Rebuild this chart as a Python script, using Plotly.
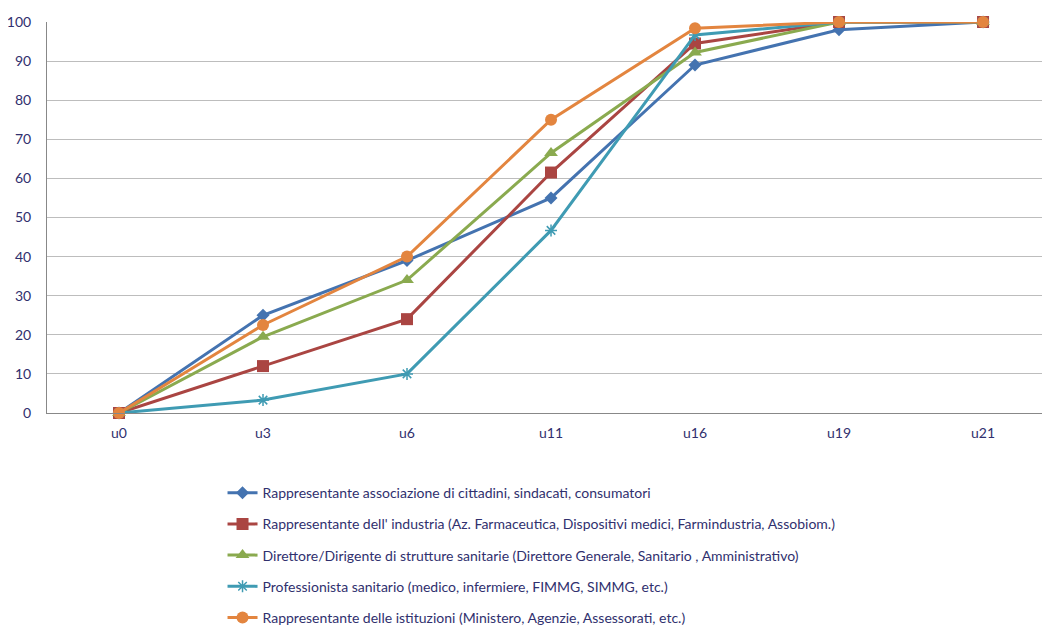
import plotly.graph_objects as go

categories = ["u0", "u3", "u6", "u11", "u16", "u19", "u21"]

names = [
    "Rappresentante associazione di cittadini, sindacati, consumatori",
    "Rappresentante dell' industria (Az. Farmaceutica, Dispositivi medici, Farmindustria, Assobiom.)",
    "Direttore/Dirigente di strutture sanitarie (Direttore Generale, Sanitario , Amministrativo)",
    "Professionista sanitario (medico, infermiere, FIMMG, SIMMG, etc.)",
    "Rappresentante delle istituzioni (Ministero, Agenzie, Assessorati, etc.)",
]

cittadini = [0, 25, 39, 55, 89, 98, 100]
industria = [0, 12, 24, 61.5, 94.5, 100, 100]
direttore = [0, 19.5, 34, 66.5, 92.2, 100, 100]
professionista = [0, 3.3, 10, 46.7, 96.7, 100, 100]
istituzioni = [0, 22.5, 40, 75, 98.4, 100, 100]

series = [cittadini, industria, direttore, professionista, istituzioni]
colors = ["#4473B0", "#AA4542", "#8AAA4F", "#3F9BB3", "#E3853F"]
symbols = ["diamond", "square", "triangle-up", "asterisk-open", "circle"]
sizes = [10, 12, 12, 10, 12]

fig = go.Figure()
for i, (nm, vals) in enumerate(zip(names, series)):
    marker = dict(symbol=symbols[i], size=sizes[i], color=colors[i])
    if symbols[i] == "asterisk-open":
        marker["line"] = dict(color=colors[i], width=1.5)
    fig.add_trace(go.Scatter(
        x=categories, y=vals, name=nm, mode="lines+markers",
        line=dict(color=colors[i], width=3),
        marker=marker, cliponaxis=False, legendgroup=f"g{i}",
    ))

text_color = "#30306E"
# page body has an 8px default margin, so figure is sized/offset to compensate
fig.update_layout(
    width=1042, height=617,
    margin=dict(l=39, r=0, t=14, b=212, autoexpand=False),
    paper_bgcolor="white", plot_bgcolor="white",
    font=dict(family="Lato, 'Open Sans', sans-serif", size=14, color=text_color),
    showlegend=True,
    legend=dict(
        x=0.175, y=-0.164, xanchor="left", yanchor="top",
        orientation="v", tracegroupgap=10, traceorder="grouped",
        font=dict(size=14, color=text_color),
        bgcolor="rgba(0,0,0,0)", itemwidth=30,
    ),
    xaxis=dict(
        type="category", range=[-0.5, 6.465], automargin=False,
        showgrid=False, showline=True, linecolor="#888888", linewidth=1,
        ticks="", tickfont=dict(size=14, color=text_color),
        ticklabelstandoff=7, fixedrange=True,
    ),
    yaxis=dict(
        range=[0, 100], dtick=10, tick0=0, automargin=False,
        showgrid=True, gridcolor="#BDBDBD", gridwidth=1,
        showline=True, linecolor="#888888", linewidth=1,
        zeroline=False, ticks="", tickfont=dict(size=14, color=text_color),
        ticklabelstandoff=12, fixedrange=True,
    ),
)

fig.write_html("out.html")
